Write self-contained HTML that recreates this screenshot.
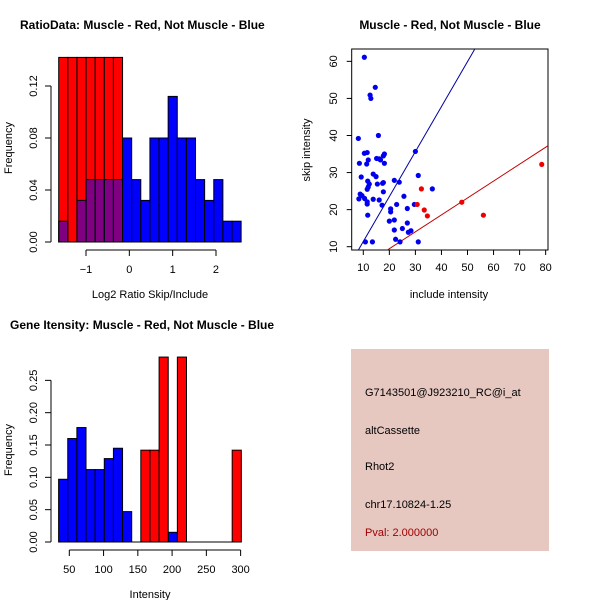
<!DOCTYPE html>
<html><head><meta charset="utf-8"><style>
html,body{margin:0;padding:0;background:#fff;}
svg{display:block;font-family:"Liberation Sans",sans-serif;}
</style></head><body>
<svg id="c" width="600" height="600" viewBox="0 0 600 600">
<rect x="0" y="0" width="600" height="600" fill="#fff"/>
<text x="20" y="29" font-size="12" font-weight="bold">RatioData: Muscle - Red, Not Muscle - Blue</text>
<text x="450" y="29" font-size="12" font-weight="bold" text-anchor="middle">Muscle - Red, Not Muscle - Blue</text>
<text x="10" y="329" font-size="12" font-weight="bold">Gene Itensity: Muscle - Red, Not Muscle - Blue</text>
<g id="g1"></g>
<g id="g2"></g>
<g id="g3"></g>
<g>
<rect x="351" y="349" width="198" height="202" fill="#e6c8c1"/>
<text x="365" y="396" font-size="11">G7143501@J923210_RC@i_at</text>
<text x="365" y="434" font-size="11">altCassette</text>
<text x="365" y="470" font-size="11">Rhot2</text>
<text x="365" y="508" font-size="11">chr17.10824-1.25</text>
<text x="365" y="536" font-size="11" fill="#a00000">Pval: 2.000000</text>
</g>
</svg>
<script>
// Ratio histogram data
const ratioBreakStart = -1.63;
const ratioBinWidth = 0.2105;
const ratioRed = [0.142,0.142,0.142,0.142,0.142,0.142,0.142];
const ratioBlue = [0.016,0,0.032,0.048,0.048,0.048,0.048,0.08,0.048,0.032,0.08,0.08,0.112,0.08,0.08,0.048,0.032,0.048,0.016,0.016];
const ratioXTicks = [-1,0,1,2];
const ratioYTicks = [0,0.04,0.08,0.12];
const ratioYLabels = ["0.00","0.04","0.08","0.12"];
// Scatter data
const blueX = [10.4,14.6,12.6,12.9,15.8,8.1,30,10.4,11.5,18.1,17.7,15.1,16.1,16.6,11.9,11.3,8.5,18.1,13.8,14.9,9.2,31.1,11.7,21.9,23.8,17.7,15.4,12.3,17.4,11.9,11.5,36.5,8.8,9.5,25.6,10.5,8.3,13.8,16.1,17.7,11.5,11.5,17.2,22.8,29.6,26.9,20.5,20.5,11.7,20,21.9,26.9,25,21.9,28.3,27.3,22.4,10.8,13.5,24.1,31.1];
const blueY = [61.1,53,50.9,50,40,39.2,35.7,35.2,35.4,35,34.5,33.8,33.7,33.4,33.4,32.3,32.5,32.5,29.6,28.9,28.8,29.2,27.7,27.9,27.4,27.3,26.9,26.9,27.1,26.1,25.5,25.6,24.2,23.8,23.6,23,22.9,22.8,22.6,24.8,22.1,21.5,21.2,21.4,21.4,20.3,20.2,19.4,18.5,16.9,17.2,16.4,14.9,14.5,14.3,13.9,12,11.3,11.3,11.3,11.3];
const redX = [30.7,32.3,33.4,34.6,47.8,56.1,78.5];
const redY = [21.4,25.6,19.9,18.3,22,18.5,32.2];
const blueLine = [-0.73,1.213];
const redLine = [0.34,0.456];
const scXTicks = [10,20,30,40,50,60,70,80];
const scYTicks = [10,20,30,40,50,60];
// Intensity histogram data
const intStart = 34.4;
const intBinWidth = 13.33;
const intBlue = [0.097,0.160,0.177,0.112,0.112,0.129,0.145,0.047,0,0,0,0,0.015,0,0,0,0,0,0,0];
const intRed = [0,0,0,0,0,0,0,0,0,0.142,0.142,0.286,0,0.286,0,0,0,0,0,0.142];
const intXTicks = [50,100,150,200,250,300];
const intYTicks = [0,0.05,0.10,0.15,0.20,0.25];
const intYLabels = ["0.00","0.05","0.10","0.15","0.20","0.25"];

const NS="http://www.w3.org/2000/svg";
function mk(p,tag,a){const e=document.createElementNS(NS,tag);for(const k in a)e.setAttribute(k,a[k]);p.appendChild(e);return e;}
function txt(p,x,y,s,rot,anchor){const t=mk(p,'text',{x:x,y:y,'font-size':11,'text-anchor':anchor||'middle'});if(rot)t.setAttribute('transform','rotate(-90 '+x+' '+y+')');t.textContent=s;return t;}

// ---- Ratio histogram
(function(){
const g=document.getElementById('g1');
const X=v=>86+(v+1)*43.33, Y=v=>242-v/0.04*52;
ratioRed.forEach((v,i)=>{const x0=X(ratioBreakStart+i*ratioBinWidth),x1=X(ratioBreakStart+(i+1)*ratioBinWidth);
 const r=mk(g,'rect',{x:x0,y:Y(v),width:x1-x0,height:242-Y(v),fill:'#ff0000',stroke:'#000','stroke-width':1});
 
 });
ratioBlue.forEach((v,i)=>{if(v<=0)return;const x0=X(ratioBreakStart+i*ratioBinWidth),x1=X(ratioBreakStart+(i+1)*ratioBinWidth);
 const r=mk(g,'rect',{x:x0,y:Y(v),width:x1-x0,height:242-Y(v),fill:'rgba(0,0,255,0.5)',stroke:'#000','stroke-width':1});
 if(i>=7)r.setAttribute('fill','#0000ff');
 
 });
mk(g,'line',{x1:51,y1:Y(0),x2:51,y2:Y(0.12),stroke:'#000'});
ratioYTicks.forEach((v,i)=>{mk(g,'line',{x1:45,y1:Y(v),x2:51,y2:Y(v),stroke:'#000'});txt(g,37,Y(v),ratioYLabels[i],true);});
mk(g,'line',{x1:X(-1),y1:250,x2:X(2),y2:250,stroke:'#000'});
ratioXTicks.forEach(v=>{mk(g,'line',{x1:X(v),y1:250,x2:X(v),y2:256,stroke:'#000'});txt(g,X(v),273,String(v).replace('-','\u2212'));});
txt(g,150,298,'Log2 Ratio Skip/Include');
txt(g,12,148,'Frequency',true);
})();

// ---- Scatter
(function(){
const g=document.getElementById('g2');
const X=v=>363.3+(v-10)*2.605, Y=v=>246.7-(v-10)*3.707;
const L=351.7,R=548,T=49,B=250;
mk(g,'rect',{x:L,y:T,width:R-L,height:B-T,fill:'none',stroke:'#000'});
const cp=mk(g,'clipPath',{id:'scclip'});mk(cp,'rect',{x:L,y:T,width:R-L,height:B-T});
function line(c,col){const xa=0,xb=100;mk(g,'line',{x1:X(xa),y1:Y(c[0]+c[1]*xa),x2:X(xb),y2:Y(c[0]+c[1]*xb),stroke:col,'clip-path':'url(#scclip)'});}
line(blueLine,'#0000a0');line(redLine,'#c00000');
blueX.forEach((v,i)=>{const c=mk(g,'circle',{cx:X(v),cy:Y(blueY[i]),r:2.6,fill:'#0000ee'});
 
 });
redX.forEach((v,i)=>{const c=mk(g,'circle',{cx:X(v),cy:Y(redY[i]),r:2.6,fill:'#ee0000'});
 
 });
scXTicks.forEach(v=>{mk(g,'line',{x1:X(v),y1:B,x2:X(v),y2:B+5,stroke:'#000'});txt(g,X(v),271,String(v));});
scYTicks.forEach(v=>{mk(g,'line',{x1:L-5,y1:Y(v),x2:L,y2:Y(v),stroke:'#000'});txt(g,337,Y(v),String(v),true);});
txt(g,449,298,'include intensity');
txt(g,310,150,'skip intensity',true);
})();

// ---- Intensity histogram
(function(){
const g=document.getElementById('g3');
const X=v=>69.3+(v-50)*0.6853, Y=v=>542-v/0.05*32.33;
mk(g,'line',{x1:X(intStart),y1:542,x2:X(intStart+intBlue.length*intBinWidth),y2:542,stroke:'#000'});
intBlue.forEach((v,i)=>{if(v<=0)return;const x0=X(intStart+i*intBinWidth),x1=X(intStart+(i+1)*intBinWidth);
 const r=mk(g,'rect',{x:x0,y:Y(v),width:x1-x0,height:542-Y(v),fill:'#0000ff',stroke:'#000'});
 
 });
intRed.forEach((v,i)=>{if(v<=0)return;const x0=X(intStart+i*intBinWidth),x1=X(intStart+(i+1)*intBinWidth);
 const r=mk(g,'rect',{x:x0,y:Y(v),width:x1-x0,height:542-Y(v),fill:'#ff0000',stroke:'#000'});
 
 });
mk(g,'line',{x1:51,y1:Y(0),x2:51,y2:Y(0.25),stroke:'#000'});
intYTicks.forEach((v,i)=>{mk(g,'line',{x1:45,y1:Y(v),x2:51,y2:Y(v),stroke:'#000'});txt(g,37,Y(v),intYLabels[i],true);});
mk(g,'line',{x1:X(50),y1:550,x2:X(300),y2:550,stroke:'#000'});
intXTicks.forEach(v=>{mk(g,'line',{x1:X(v),y1:550,x2:X(v),y2:556,stroke:'#000'});txt(g,X(v),573,String(v));});
txt(g,150,598,'Intensity');
txt(g,12,450,'Frequency',true);
})();
</script>
</body></html>
